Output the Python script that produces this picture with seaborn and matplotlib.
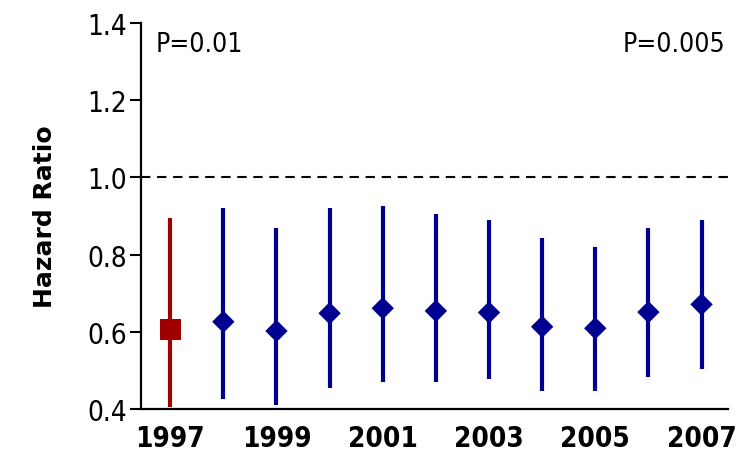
import numpy as np
import pandas as pd
import matplotlib
matplotlib.use('Agg')
import matplotlib.pyplot as plt
import seaborn as sns

years = [1997, 1998, 1999, 2000, 2001, 2002, 2003, 2004, 2005, 2006, 2007]
hazard = [0.607, 0.626, 0.602, 0.648, 0.661, 0.654, 0.650, 0.613, 0.609, 0.651, 0.671]
lower = [0.405, 0.426, 0.410, 0.454, 0.470, 0.470, 0.478, 0.447, 0.447, 0.483, 0.503]
upper = [0.894, 0.920, 0.870, 0.920, 0.927, 0.906, 0.890, 0.842, 0.820, 0.870, 0.890]
group = ['ref'] + ['year'] * 10
p_labels = ['P=0.01', 'P=0.005']

df = pd.DataFrame({'year': years, 'hr': hazard, 'lo': lower, 'hi': upper, 'group': group})

RED = '#a00000'
BLUE = '#000090'
colors = {'ref': RED, 'year': BLUE}

sns.set_style('white')
plt.rcParams['font.family'] = ['DejaVu Sans']
plt.rcParams['font.stretch'] = 'condensed'
plt.rcParams['text.color'] = 'black'
plt.rcParams['xtick.color'] = 'black'
plt.rcParams['ytick.color'] = 'black'
plt.rcParams['axes.labelcolor'] = 'black'

fig = plt.figure(figsize=(7.46, 4.56), dpi=100)
ax = fig.add_axes([0.189, 0.101, 0.787, 0.846])

# confidence intervals
ax.vlines(df['year'], df['lo'], df['hi'], colors=[colors[g] for g in df['group']],
          linewidth=3.0, zorder=2)

sns.scatterplot(data=df, x='year', y='hr', hue='group', style='group',
                markers={'ref': 's', 'year': 'D'}, palette=colors,
                size='group', sizes={'ref': 230, 'year': 130},
                edgecolor='none', legend=False, zorder=3, ax=ax)

ax.axhline(1.0, color='black', linestyle=(0, (4.5, 3.2)), linewidth=1.5, zorder=1)

ax.set_xlim(1996.45, 2007.5)
ax.set_ylim(0.4, 1.4)
ax.set_yticks([0.4, 0.6, 0.8, 1.0, 1.2, 1.4])
ax.set_yticklabels(['0.4', '0.6', '0.8', '1.0', '1.2', '1.4'], fontsize=20, stretch='condensed')
ax.set_xticks(years[::2])
ax.set_xticklabels([str(y) for y in years[::2]], fontsize=20, fontweight='bold', stretch='condensed')
ax.tick_params(axis='y', length=8, width=1.5, direction='out', pad=2, left=True)
ax.tick_params(axis='x', length=0, pad=11)

for s in ['top', 'right']:
    ax.spines[s].set_visible(False)
for s in ['left', 'bottom']:
    ax.spines[s].set_linewidth(1.6)
    ax.spines[s].set_color('black')

ax.set_xlabel('')
ax.set_ylabel('Hazard Ratio', fontsize=18, fontweight='bold', stretch='normal', labelpad=22)

ax.text(0.025, 0.945, p_labels[0], transform=ax.transAxes, fontsize=19, va='center', ha='left')
ax.text(0.995, 0.945, p_labels[1], transform=ax.transAxes, fontsize=19, va='center', ha='right')

fig.savefig('out.png', dpi=100)
